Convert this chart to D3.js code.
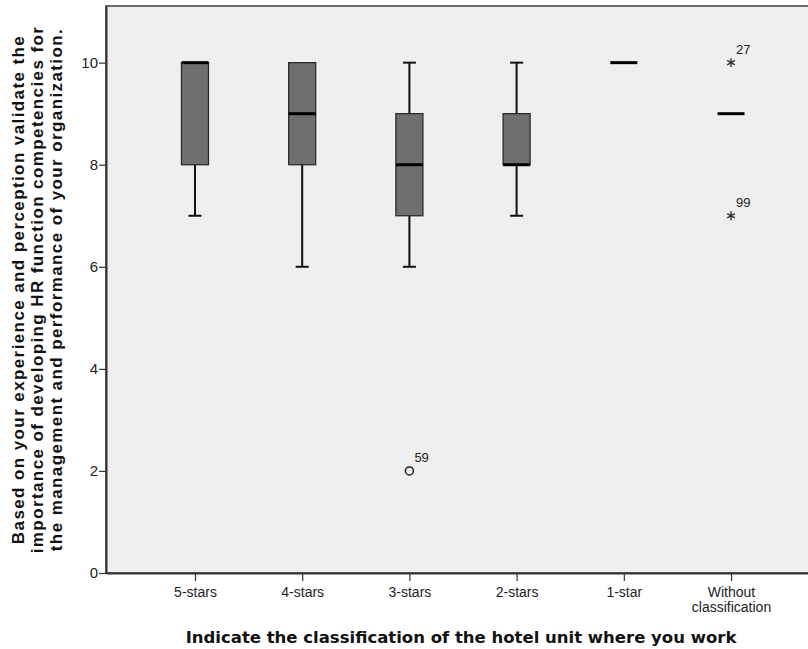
<!DOCTYPE html>
<html>
<head>
<meta charset="utf-8">
<script src="https://cdn.jsdelivr.net/npm/d3@7"></script>
<style>
  body { margin: 0; background: #fff; }
  svg { display: block; }
</style>
</head>
<body>
<div id="chart"></div>
<script>
// categories and box statistics
const categories = ['5-stars', '4-stars', '3-stars', '2-stars', '1-star', 'Without classification'];
const mins    = [7, 6, 6, 7, 10, 9];
const q1s     = [8, 8, 7, 8, 10, 9];
const medians = [10, 9, 8, 8, 10, 9];
const q3s     = [10, 10, 9, 9, 10, 9];
const maxs    = [10, 10, 10, 10, 10, 9];
// outliers: category, value, case number, kind
const outCats   = ['3-stars', 'Without classification', 'Without classification'];
const outValues = [2, 10, 7];
const outLabels = ['59', '27', '99'];
const outKinds  = ['circle', 'star', 'star'];
const yTicks = [0, 2, 4, 6, 8, 10];

const width = 808, height = 649;
const plot = { left: 106, top: 6, right: 820, bottom: 573 };

const svg = d3.select('#chart').append('svg')
    .attr('width', width)
    .attr('height', height);

const defs = svg.append('defs');
const pat = defs.append('pattern')
    .attr('id', 'dots')
    .attr('width', 4).attr('height', 4)
    .attr('patternUnits', 'userSpaceOnUse');
pat.append('rect').attr('width', 4).attr('height', 4).attr('fill', '#eeeeee');
pat.append('rect').attr('x', 1).attr('y', 1).attr('width', 1).attr('height', 1).attr('fill', '#f9f9f9');

const x = d3.scalePoint()
    .domain(categories)
    .range([plot.left, plot.right])
    .padding(0.83);

const y = d3.scaleLinear()
    .domain([0, 11.11])
    .range([plot.bottom, plot.top]);

// plot background + frame
svg.append('rect')
    .attr('x', plot.left).attr('y', plot.top)
    .attr('width', plot.right - plot.left)
    .attr('height', plot.bottom - plot.top)
    .attr('fill', 'url(#dots)')
    .attr('stroke', '#6a6a6a')
    .attr('stroke-width', 2);

// y axis
const yAxis = svg.append('g')
    .attr('transform', 'translate(' + plot.left + ',0)')
    .call(d3.axisLeft(y).tickValues(yTicks).tickSizeInner(7).tickSizeOuter(0).tickPadding(1));
yAxis.select('.domain').attr('stroke', '#333').attr('stroke-width', 2);
yAxis.selectAll('.tick line').attr('stroke', '#333').attr('stroke-width', 1.2);
yAxis.selectAll('text')
    .style('font-family', 'Liberation Sans, Arial, sans-serif')
    .style('font-size', '15px')
    .attr('fill', '#222');

// x axis
const xAxis = svg.append('g')
    .attr('transform', 'translate(0,' + plot.bottom + ')')
    .call(d3.axisBottom(x).tickSizeInner(8).tickSizeOuter(0).tickPadding(6));
xAxis.select('.domain').attr('stroke', '#333').attr('stroke-width', 2);
xAxis.selectAll('.tick line').attr('stroke', '#333').attr('stroke-width', 1.2);
xAxis.selectAll('text')
    .style('font-family', 'Liberation Sans, Arial, sans-serif')
    .style('font-size', '14px')
    .attr('fill', '#222')
    .each(function (d) {
        const t = d3.select(this);
        if (d === 'Without classification') {
            t.text('');
            t.append('tspan').attr('x', 0).attr('dy', '0.71em').text('Without');
            t.append('tspan').attr('x', 0).attr('dy', '1.1em').text('classification');
        }
    });

// boxes
const boxW = 27, capW = 13;
const stats = categories.map((c, i) => ({
    cat: c, min: mins[i], q1: q1s[i], med: medians[i], q3: q3s[i], max: maxs[i]
}));

const g = svg.append('g');
stats.forEach(function (d) {
    const cx = x(d.cat);
    if (d.max > d.q3) {
        g.append('line').attr('x1', cx).attr('x2', cx).attr('y1', y(d.q3)).attr('y2', y(d.max))
            .attr('stroke', '#111').attr('stroke-width', 2);
        g.append('line').attr('x1', cx - capW / 2).attr('x2', cx + capW / 2).attr('y1', y(d.max)).attr('y2', y(d.max))
            .attr('stroke', '#111').attr('stroke-width', 2);
    }
    if (d.min < d.q1) {
        g.append('line').attr('x1', cx).attr('x2', cx).attr('y1', y(d.q1)).attr('y2', y(d.min))
            .attr('stroke', '#111').attr('stroke-width', 2);
        g.append('line').attr('x1', cx - capW / 2).attr('x2', cx + capW / 2).attr('y1', y(d.min)).attr('y2', y(d.min))
            .attr('stroke', '#111').attr('stroke-width', 2);
    }
    if (d.q3 > d.q1) {
        g.append('rect')
            .attr('x', cx - boxW / 2).attr('y', y(d.q3))
            .attr('width', boxW).attr('height', y(d.q1) - y(d.q3))
            .attr('fill', '#6f6f6f')
            .attr('stroke', '#2a2a2a')
            .attr('stroke-width', 1.3);
    }
    g.append('line')
        .attr('x1', cx - boxW / 2).attr('x2', cx + boxW / 2)
        .attr('y1', y(d.med)).attr('y2', y(d.med))
        .attr('stroke', '#000').attr('stroke-width', 3);
});

// outliers
outValues.forEach(function (v, i) {
    const cx = x(outCats[i]), cy = y(v);
    if (outKinds[i] === 'circle') {
        g.append('circle').attr('cx', cx).attr('cy', cy).attr('r', 4)
            .attr('fill', 'none').attr('stroke', '#222').attr('stroke-width', 1.5);
    } else {
        g.append('path')
            .attr('transform', 'translate(' + cx + ',' + cy + ')')
            .attr('d', d3.symbol().type(d3.symbolAsterisk).size(55)())
            .attr('fill', 'none').attr('stroke', '#333').attr('stroke-width', 1.4);
    }
    g.append('text')
        .attr('x', cx + 5).attr('y', cy - 9)
        .style('font-family', 'Liberation Sans, Arial, sans-serif')
        .style('font-size', '13px')
        .attr('fill', '#222')
        .text(outLabels[i]);
});

// axis titles
svg.append('text')
    .attr('x', 461).attr('y', 643)
    .attr('text-anchor', 'middle')
    .style('font-family', 'DejaVu Sans, sans-serif')
    .style('font-weight', 'bold')
    .style('font-size', '16.5px')
    .attr('fill', '#111')
    .text('Indicate the classification of the hotel unit where you work');

const yTitle = svg.append('text')
    .attr('transform', 'translate(24,' + ((plot.top + plot.bottom) / 2) + ') rotate(-90)')
    .attr('text-anchor', 'middle')
    .style('font-family', 'Liberation Sans, Arial, sans-serif')
    .style('font-weight', 'bold')
    .style('font-size', '17px')
    .style('letter-spacing', '1.4px')
    .attr('fill', '#111');
['Based on your experience and perception validate the',
 'importance of developing HR function competencies for',
 'the management and performance of your organization.'].forEach(function (line, i) {
    yTitle.append('tspan').attr('x', 0).attr('dy', i === 0 ? 0 : '1.12em').text(line);
});
</script>
</body>
</html>
